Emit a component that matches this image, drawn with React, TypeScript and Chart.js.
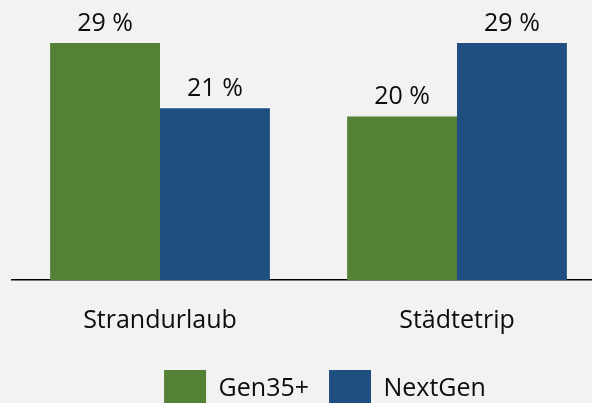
import React, { useEffect, useRef } from 'react';
import { Chart, registerables } from 'chart.js';

Chart.register(...registerables);

const categories = ['Strandurlaub', 'Städtetrip'];
const seriesNames = ['Gen35+', 'NextGen'];
const gen35Values = [29, 20];
const nextGenValues = [21, 29];
const seriesColors = ['#538135', '#1F4E80'];
const yMax = 34;

const FONT = '"Open Sans", "DejaVu Sans", sans-serif';
const TEXT = '#0d0d0d';
const FS = 25;

const dataLabels = {
  id: 'dataLabels',
  afterDatasetsDraw(chart: any) {
    const ctx = chart.ctx;
    ctx.save();
    ctx.font = `${FS}px ${FONT}`;
    ctx.fillStyle = TEXT;
    ctx.textAlign = 'center';
    ctx.textBaseline = 'alphabetic';
    chart.data.datasets.forEach((ds: any, i: number) => {
      const meta = chart.getDatasetMeta(i);
      meta.data.forEach((el: any, j: number) => {
        ctx.fillText(`${ds.data[j]} %`, el.x, el.y - 12);
      });
    });
    ctx.restore();
  },
};

const legendShift = {
  id: 'legendShift',
  afterLayout(chart: any) {
    const l = chart.legend;
    if (l) {
      l.left += 16.5;
      l.right += 16.5;
    }
  },
};

export default function App() {
  const ref = useRef<HTMLCanvasElement | null>(null);

  useEffect(() => {
    if (!ref.current) return;
    const chart = new Chart(ref.current, {
      type: 'bar',
      data: {
        labels: categories,
        datasets: [
          { label: seriesNames[0], data: gen35Values, backgroundColor: seriesColors[0], borderWidth: 0 },
          { label: seriesNames[1], data: nextGenValues, backgroundColor: seriesColors[1], borderWidth: 0 },
        ],
      },
      options: {
        animation: false,
        responsive: true,
        maintainAspectRatio: false,
        layout: { padding: { top: 2, left: 11.5, right: 0.5, bottom: 0 } },
        datasets: { bar: { categoryPercentage: 0.74, barPercentage: 1 } },
        plugins: {
          tooltip: { enabled: false },
          legend: {
            position: 'bottom',
            labels: {
              boxWidth: 42,
              boxHeight: 38,
              padding: 20,
              color: TEXT,
              font: { family: FONT, size: FS },
            },
          },
        },
        scales: {
          x: {
            grid: { display: false, drawTicks: false },
            border: { display: true, color: '#000', width: 1.5 },
            ticks: { color: TEXT, font: { family: FONT, size: FS }, padding: 26 },
            afterFit(scale: any) {
              scale.height = 70;
            },
          },
          y: { display: false, min: 0, max: yMax },
        },
      } as any,
      plugins: [dataLabels, legendShift],
    });
    return () => chart.destroy();
  }, []);

  return (
    <div style={{ position: 'fixed', left: 0, top: 0, width: 592, height: 403, overflow: 'hidden', background: '#F2F2F2' }}>
      <div style={{ position: 'relative', width: 606, height: 418 }}>
        <canvas ref={ref} />
      </div>
    </div>
  );
}
